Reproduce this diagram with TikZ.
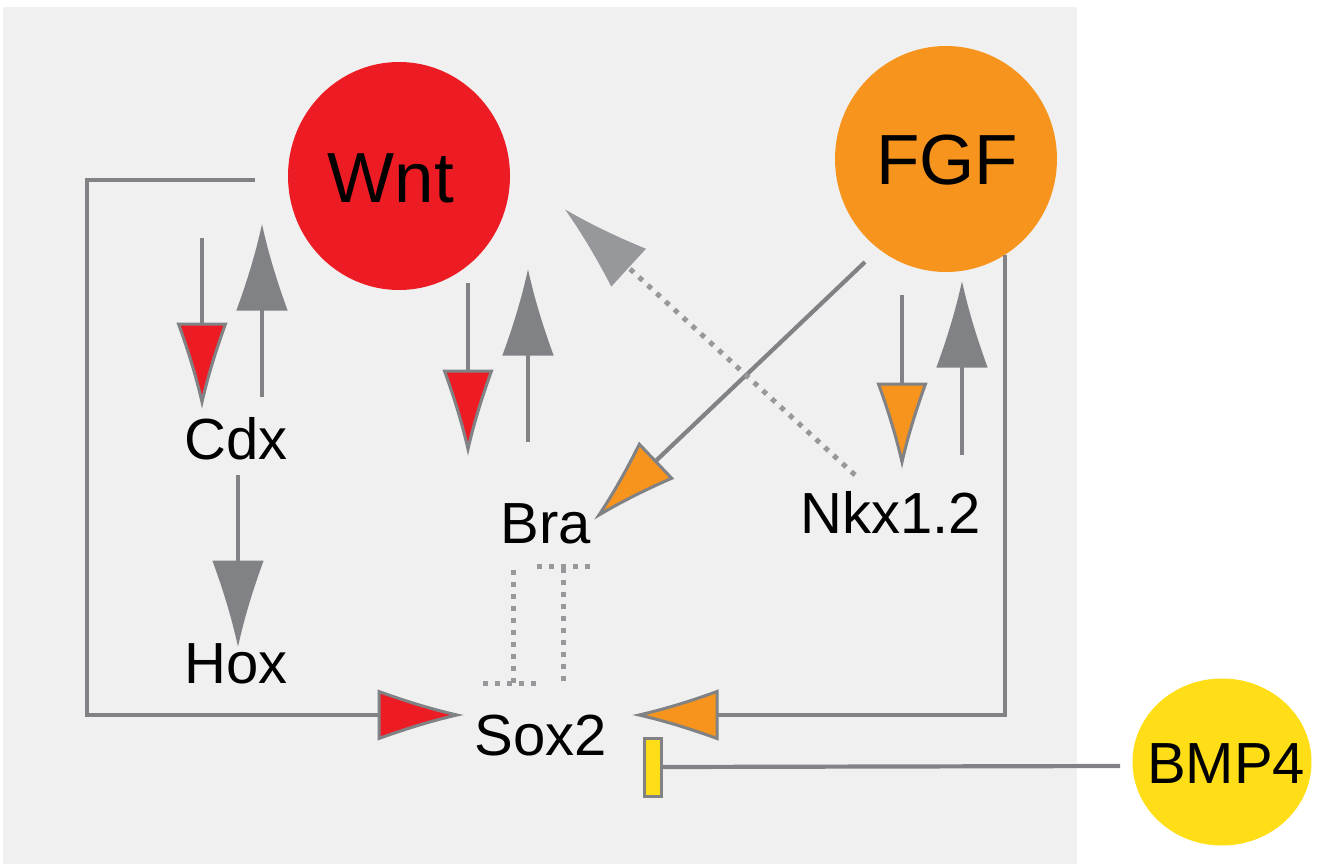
\documentclass[tikz,border=0pt]{standalone}
\usepackage{fontspec}
\setmainfont{Liberation Sans}
\usetikzlibrary{arrows.meta,shapes.geometric}

\pgfdeclarearrow{
  name = CTip,
  parameters = {\the\pgfarrowlength,\the\pgfarrowwidth,\the\pgfarrowlinewidth},
  setup code = {
    \pgfarrowssettipend{0pt}
    \pgfarrowssetlineend{-.85\pgfarrowlength}
    \pgfarrowssetvisualbackend{-\pgfarrowlength}
    \pgfarrowssetbackend{-\pgfarrowlength}
    \pgfarrowshullpoint{0pt}{0pt}
    \pgfarrowsupperhullpoint{-\pgfarrowlength}{.5\pgfarrowwidth}
    \pgfarrowssavethe\pgfarrowlength
    \pgfarrowssavethe\pgfarrowwidth
    \pgfarrowssavethe\pgfarrowlinewidth
  },
  drawing code = {
    \pgfsetdash{}{0pt}
    \pgfsetmiterjoin
    \ifdim\pgfarrowlinewidth=\pgflinewidth\else\pgfsetlinewidth{\pgfarrowlinewidth}\fi
    \pgfpathmoveto{\pgfqpoint{0pt}{0pt}}
    \pgfpathcurveto{\pgfqpoint{-.33\pgfarrowlength}{.125\pgfarrowwidth}}{\pgfqpoint{-.67\pgfarrowlength}{.3\pgfarrowwidth}}{\pgfqpoint{-\pgfarrowlength}{.5\pgfarrowwidth}}
    \pgfpathlineto{\pgfqpoint{-\pgfarrowlength}{-.5\pgfarrowwidth}}
    \pgfpathcurveto{\pgfqpoint{-.67\pgfarrowlength}{-.3\pgfarrowwidth}}{\pgfqpoint{-.33\pgfarrowlength}{-.125\pgfarrowwidth}}{\pgfqpoint{0pt}{0pt}}
    \pgfpathclose
    \pgfusepathqfillstroke
  },
  defaults = {length = 78pt, width = 47pt}
}

\definecolor{lgray}{RGB}{128,130,133}
\definecolor{dgray}{RGB}{150,152,155}
\definecolor{bgray}{RGB}{240,240,240}
\definecolor{wred}{RGB}{237,28,36}
\definecolor{forange}{RGB}{247,148,29}
\definecolor{byel}{RGB}{255,222,23}

\begin{document}
\begin{tikzpicture}[x=1pt,y=-1pt,
  conn/.style={draw=lgray, line width=4.2pt},
  dotl/.style={draw=dgray, line width=5pt, dash pattern=on 5pt off 7pt},
  lbl/.style={font=\fontsize{58}{60}\selectfont, inner sep=0pt, anchor=base},
  blbl/.style={font=\fontsize{71}{74}\selectfont, inner sep=0pt, anchor=base},
  blob/.style={ellipse, inner sep=0pt, draw=none},
  hd/.style={-{CTip[fill=#1, line width=3pt]}},
]
% canvas and background panel
\fill[white] (0,0) rectangle (1318,864);
\useasboundingbox (0,0) rectangle (1318,864);
\fill[bgray] (3,7) rectangle (1077,864);

% signalling blobs
\node[blob, fill=wred, minimum width=222pt, minimum height=228pt] (Wnt) at (399,176) {};
\node[blob, fill=forange, minimum width=222pt, minimum height=226pt] (FGF) at (946,159) {};
\node[blob, fill=byel, minimum width=179pt, minimum height=167pt] (BMP) at (1222,762) {};
\node[blbl] (WntL) at (391,203) {Wnt};
\node[blbl] (FGFL) at (947,185) {FGF};
\node[lbl] (BMPL) at (1226,783) {BMP4};

% gene labels
\node[lbl] (Cdx) at (236,459) {Cdx};
\node[lbl] (Hox) at (236,683) {Hox};
\node[lbl] (Bra) at (546,543) {Bra};
\node[lbl] (Nkx) at (891,533) {Nkx1.2};
\node[lbl] (Sox) at (541,755) {Sox2};

% coordinates of connector ends
\coordinate (wA) at (255,180);
\coordinate (wB) at (87,180);
\coordinate (wC) at (87,715);
\coordinate (sL) at (457,715);
\coordinate (fA) at (1005,255);
\coordinate (fB) at (1005,715);
\coordinate (sR) at (639,715);
\coordinate (bmpS) at (1120,766);

\coordinate (wc1) at (202,238);  \coordinate (wc2) at (202,402);
\coordinate (cw1) at (262,397);  \coordinate (cw2) at (262,231);
\coordinate (wb1) at (468,283);  \coordinate (wb2) at (468,449);
\coordinate (bw1) at (528,442);  \coordinate (bw2) at (528,276);
\coordinate (fn1) at (902,295);  \coordinate (fn2) at (902,462);
\coordinate (nf1) at (962,455);  \coordinate (nf2) at (962,288);
\coordinate (ch1) at (238,475);  \coordinate (ch2) at (238,640);
\coordinate (fb1) at (865,262);  \coordinate (fb2) at (599,515);
\coordinate (nw1) at (855,475);  \coordinate (nw2) at (570,214);

% Wnt -> Sox2 and FGF -> Sox2 loops
\draw[conn, hd=wred] (wA) -- (wB) -- (wC) -- (sL);
\draw[conn, hd=forange] (fA) -- (fB) -- (sR);

% BMP4 -| Sox2
\node[rectangle, draw=lgray, fill=byel, line width=3pt, minimum width=17pt, minimum height=58pt, inner sep=0pt] (bar) at (652.5,767) {};
\draw[conn] (bmpS) -- (bar.east);

% vertical feedback arrows
\draw[conn, hd=wred] (wc1) -- (wc2);
\draw[conn, hd=lgray] (cw1) -- (cw2);
\draw[conn, hd=wred] (wb1) -- (wb2);
\draw[conn, hd=lgray] (bw1) -- (bw2);
\draw[conn, hd=forange] (fn1) -- (fn2);
\draw[conn, hd=lgray] (nf1) -- (nf2);
\draw[conn, hd=lgray] (ch1) -- (ch2);

% FGF -> Bra
\draw[conn, hd=forange] (fb1) -- (fb2);
% Nkx1.2 -> Wnt (dotted)
\draw[dotl, -{CTip[fill=dgray, line width=3pt]}] (nw1) -- (nw2);

% Bra -| Sox2 and Sox2 -| Bra (dotted)
\coordinate (bs1) at (513,570); \coordinate (bs2) at (513,683);
\coordinate (bsL) at (483,683); \coordinate (bsR) at (540,683);
\coordinate (sb1) at (563,681); \coordinate (sb2) at (563,566);
\coordinate (sbL) at (537,566); \coordinate (sbR) at (594,566);
\draw[dotl] (bs1) -- (bs2);
\draw[dotl] (bsL) -- (bsR);
\draw[dotl] (sb1) -- (sb2);
\draw[dotl] (sbL) -- (sbR);
\end{tikzpicture}
\end{document}
